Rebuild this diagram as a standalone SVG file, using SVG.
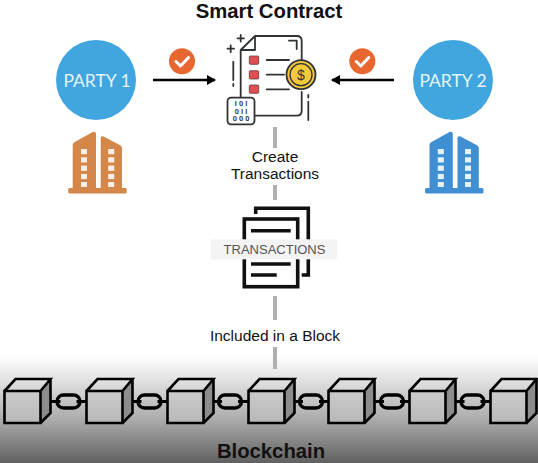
<svg xmlns="http://www.w3.org/2000/svg" xmlns:xlink="http://www.w3.org/1999/xlink" width="538" height="463" viewBox="0 0 538 463">
<style>
text{font-family:"Liberation Sans",Arial,sans-serif;text-anchor:middle}
.label{font-size:15.500px;fill:#111}
.title{font-size:20.300px;font-weight:bold;fill:#111}
.party{font-family:"Lato","Open Sans",sans-serif;font-size:17.500px;fill:#e4f5fb}
.ic{fill:none;stroke:#2f3336;stroke-width:1.8;stroke-linecap:round;stroke-linejoin:round}
.bar{stroke:#b0b0b0;stroke-width:4}
.cube{fill:none;stroke:#000;stroke-width:2.6;stroke-linejoin:miter}
.tk{fill:none;stroke:#111;stroke-width:3.6}
.bits{font-size:7.500px;font-weight:bold;fill:#2f3336}
</style>
<defs>
<linearGradient id="shade" x1="0" y1="0" x2="0" y2="1">
<stop offset="0" stop-color="#fff"/><stop offset="0.2" stop-color="#e6e6e6"/><stop offset="0.6" stop-color="#ababab"/><stop offset="1" stop-color="#606060"/>
</linearGradient>
<marker id="ah" markerUnits="userSpaceOnUse" markerWidth="9" markerHeight="10" refX="8" refY="5" orient="auto"><path d="M0 0L9 5L0 10Z" fill="#000"/></marker>
<g id="tower">
<path d="M0 14Q0 12 2 11L20 1Q23.300 0 23.300 3V57H0Z"/>
<path d="M28 7Q28 4.500 31 5.500L47 14Q49.300 15 49.300 17V57H28Z"/>
<rect x="-4.500" y="57" width="58.500" height="5.500" rx="1.500"/>
<g fill="#fff" fill-opacity=".88"><rect x="8.300" y="18" width="6" height="5.200"/><rect x="8.300" y="26.300" width="6" height="5.200"/><rect x="8.300" y="34.600" width="6" height="5.200"/><rect x="8.300" y="42.900" width="6" height="5.200"/><rect x="8.300" y="51" width="6" height="5"/><rect x="35.500" y="18" width="6" height="5.200"/><rect x="35.500" y="26.300" width="6" height="5.200"/><rect x="35.500" y="34.600" width="6" height="5.200"/><rect x="35.500" y="42.900" width="6" height="5.200"/><rect x="35.500" y="51" width="6" height="5"/></g>
</g>
<g id="cube">
<path d="M0 0H36V32H0Z" fill="#c6c6c6" fill-opacity=".55"/>
<path d="M36 0L46 -12V22L36 32Z" fill="#8c8c8c"/>
<path class="cube" d="M0 0H36V32H0ZM0 0L11 -12H46L36 0M46 -12V22L36 32"/>
</g>
<g id="link">
<path d="M-18 0H-8M8 0H18" stroke="#000" stroke-width="2.800" fill="none"/>
<rect x="-11.500" y="-6.500" width="23" height="13" rx="6.500" fill="none" stroke="#000" stroke-width="3.400"/>
</g>
</defs>
<rect width="538" height="463" fill="#fff"/>
<rect id="shade-band" x="0" y="355" width="538" height="108" fill="url(#shade)"/>

<g id="connectors">
<line x1="153" y1="80" x2="215" y2="80" stroke="#000" stroke-width="2.600" marker-end="url(#ah)"/>
<line x1="394" y1="80" x2="332" y2="80" stroke="#000" stroke-width="2.600" marker-end="url(#ah)"/>
<line class="bar" x1="275" y1="127" x2="275" y2="148"/>
<line class="bar" x1="275" y1="185" x2="275" y2="200"/>
<line class="bar" x1="275" y1="296" x2="275" y2="320"/>
<line class="bar" x1="275" y1="347" x2="275" y2="369"/>
<use xlink:href="#link" href="#link" x="68.500" y="401.500"/>
<use xlink:href="#link" href="#link" x="149.500" y="401.500"/>
<use xlink:href="#link" href="#link" x="230" y="401.500"/>
<use xlink:href="#link" href="#link" x="311" y="401.500"/>
<use xlink:href="#link" href="#link" x="392" y="401.500"/>
<use xlink:href="#link" href="#link" x="472.500" y="401.500"/>
</g>

<g id="title"><text class="title" x="269" y="18">Smart Contract</text></g>

<g id="party1">
<circle cx="96" cy="80" r="40" fill="#41a5df"/>
<text class="party" x="97" y="87">PARTY 1</text>
<use xlink:href="#tower" href="#tower" x="72.700" y="131" fill="#d5874a"/>
</g>
<g id="party2">
<circle cx="453" cy="80" r="40" fill="#41a5df"/>
<text class="party" x="453" y="87">PARTY 2</text>
<use xlink:href="#tower" href="#tower" x="429.500" y="131" fill="#3f8fd2"/>
</g>

<g id="check1">
<circle cx="182" cy="61.300" r="13" fill="#e8662f"/>
<path d="M176 61.500L180.500 66L188.500 57.500" fill="none" stroke="#fff" stroke-width="3" stroke-linecap="round" stroke-linejoin="round"/>
</g>
<g id="check2">
<circle cx="362.300" cy="61.300" r="13" fill="#e8662f"/>
<path d="M356.300 61.500L360.800 66L368.800 57.500" fill="none" stroke="#fff" stroke-width="3" stroke-linecap="round" stroke-linejoin="round"/>
</g>

<g id="smart-contract">
<path class="ic" d="M301.700 60V41Q301.700 36 296.700 36H255L240.700 50V98M255 36V50H240.700M301.700 92V110.700Q301.700 115.700 296.700 115.700H255M289 40.700H296.700V49"/>
<path class="ic" d="M266.700 60H289M266.700 74.700H284M266.700 89.300H289"/>
<path class="ic" d="M230.700 45.500V52M227.500 48.700H234M240.700 35V41.500M237.500 38.300H244M233.300 61.700V80M233.300 84V86M308.300 95V97.500M308.300 101.700V120"/>
<g fill="#df4f52" stroke="#5f3a3a" stroke-width=".8"><rect x="249.300" y="56" width="9.400" height="8.300" rx="1"/><rect x="249.300" y="70.700" width="9.400" height="8.300" rx="1"/><rect x="249.300" y="85" width="9.400" height="8.300" rx="1"/></g>
<circle cx="301" cy="74.700" r="14.500" fill="#f2c93a" stroke="#2f3336" stroke-width="1.800"/>
<circle cx="301" cy="74.700" r="11" fill="none" stroke="#2f3336" stroke-width="1.300"/>
<text x="301" y="80" style="font-size:14px;fill:#2f3336">$</text>
<rect x="227.500" y="97.700" width="27" height="26.600" rx="3.500" fill="#fff" stroke="#2f3336" stroke-width="1.800"/>
<text class="bits" x="241" y="106">l 0 l</text>
<text class="bits" x="241" y="113.500">0 l l</text>
<text class="bits" x="241" y="121">0 0 0</text>
</g>
<g id="create-label">
<text class="label" x="275" y="162">Create</text>
<text class="label" x="275" y="179">Transactions</text>
</g>

<g id="transactions">
<path class="tk" d="M255.700 214V208.300H308.300V275H301.700"/>
<rect class="tk" x="244.300" y="219" width="53.400" height="67.700" fill="#fff"/>
<path class="tk" d="M251 230.700H290.700M251 264H290.700M251 275H276.700"/>
<rect x="211" y="239.300" width="126.300" height="20" fill="#f3f4f3"/>
<text x="274.500" y="254" style="font-size:13px;fill:#555">TRANSACTIONS</text>
</g>

<g id="included-label"><text class="label" x="275" y="341">Included in a Block</text></g>

<g id="blockchain">
<use xlink:href="#cube" href="#cube" x="4.500" y="391"/>
<use xlink:href="#cube" href="#cube" x="86.500" y="391"/>
<use xlink:href="#cube" href="#cube" x="167.500" y="391"/>
<use xlink:href="#cube" href="#cube" x="248.500" y="391"/>
<use xlink:href="#cube" href="#cube" x="328.500" y="391"/>
<use xlink:href="#cube" href="#cube" x="409.500" y="391"/>
<use xlink:href="#cube" href="#cube" x="490.500" y="391"/>
<text class="title" x="271" y="458">Blockchain</text>
</g>
</svg>
